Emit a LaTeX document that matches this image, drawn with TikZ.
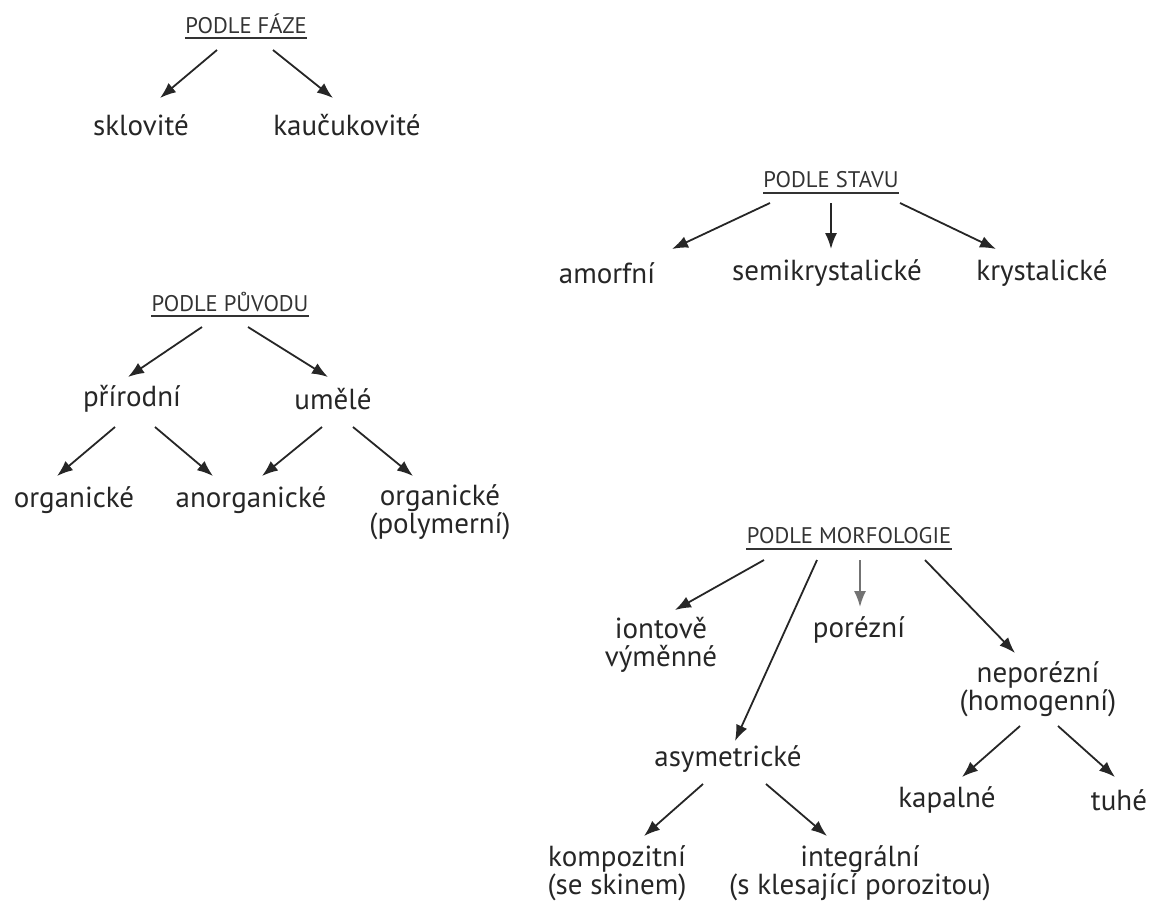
\documentclass[tikz,border=0pt]{standalone}
\usepackage{fontspec}
\setmainfont{PT Sans}
\usetikzlibrary{arrows.meta,calc}

\begin{document}
\begin{tikzpicture}[x=0.5pt,y=-0.5pt]
\tikzstyle{word}=[text=black!85, font=\fontsize{14.5}{14}\selectfont, align=center, inner sep=0pt]
\tikzstyle{head}=[text=black!80, font=\fontsize{11.3}{12}\selectfont, inner xsep=0pt, inner ysep=2pt]
\tikzstyle{uline}=[draw=black!80, line width=1pt]
\tikzstyle{connect}=[-{Latex[length=8pt,width=6pt]}, draw=black!85, line width=0.9pt]

\useasboundingbox (0,0) rectangle (1158,902);

% podle faze
\node[head] (faze)  at (246,24)  {PODLE FÁZE};
\node[word] (sklo)  at (141,125) {sklovité};
\node[word] (kauc)  at (347,125) {kaučukovité};

% podle stavu
\node[head] (stav)  at (831,180) {PODLE STAVU};
\node[word] (amorf) at (607,273) {amorfní};
\node[word] (semi)  at (827,273) {semikrystalické};
\node[word] (kryst) at (1042,273) {krystalické};

% podle puvodu
\node[head] (puvod) at (230,302) {PODLE PŮVODU};
\node[word] (prir)  at (132,399) {přírodní};
\node[word] (umele) at (333,399) {umělé};
\node[word] (orgA)  at (74,500)  {organické};
\node[word] (anorg) at (251,500) {anorganické};
\node[word] (orgB)  at (440,512) {organické\\(polymerní)};

% podle morfologie
\node[head] (morf)  at (849,536) {PODLE MORFOLOGIE};
\node[word] (iont)  at (661,645) {iontově\\výměnné};
\node[word] (poro)  at (859,630) {porézní};
\node[word] (nepor) at (1038,689) {neporézní\\(homogenní)};
\node[word] (asym)  at (728,759) {asymetrické};
\node[word] (kap)   at (947,800) {kapalné};
\node[word] (tuhe)  at (1119,800) {tuhé};
\node[word] (komp)  at (617,873) {kompozitní\\(se skinem)};
\node[word] (integ) at (860,873) {integrální\\(s klesající porozitou)};

% underlines
\foreach \h in {faze,stav,puvod,morf}
  \draw[uline] (\h.south west) -- (\h.south east);

% arrows
\draw[connect] ($(faze)+(-29,26)$) -- ($(sklo)+(19,-27)$);
\draw[connect] ($(faze)+(27,26)$)  -- ($(kauc)+(-14,-27)$);

\draw[connect] ($(stav)+(-61,23)$) -- ($(amorf)+(65,-24)$);
\draw[connect] ($(stav)+(0,23)$)   -- ($(semi)+(4,-24)$);
\draw[connect] ($(stav)+(69,23)$)  -- ($(kryst)+(-46,-24)$);

\draw[connect] ($(puvod)+(-28,25)$) -- ($(prir)+(-4,-22)$);
\draw[connect] ($(puvod)+(18,25)$)  -- ($(umele)+(-5,-22)$);
\draw[connect] ($(prir)+(-17,28)$)  -- ($(orgA)+(-17,-24)$);
\draw[connect] ($(prir)+(23,28)$)   -- ($(anorg)+(-38,-24)$);
\draw[connect] ($(umele)+(-11,28)$) -- ($(anorg)+(11,-24)$);
\draw[connect] ($(umele)+(20,28)$)  -- ($(orgB)+(-27,-36)$);

\draw[connect] ($(morf)+(-85,24)$) -- ($(iont)+(14,-35)$);
\draw[connect] ($(morf)+(-32,24)$) -- ($(asym)+(7,-18)$);
\draw[connect, draw=black!55] ($(morf)+(11,24)$) -- ($(poro)+(1,-23)$);
\draw[connect] ($(morf)+(76,24)$)  -- ($(nepor)+(-23,-36)$);
\draw[connect] ($(nepor)+(-18,37)$) -- ($(kap)+(15,-23)$);
\draw[connect] ($(nepor)+(20,37)$)  -- ($(tuhe)+(-4,-23)$);
\draw[connect] ($(asym)+(-25,25)$)  -- ($(komp)+(27,-37)$);
\draw[connect] ($(asym)+(38,25)$)   -- ($(integ)+(-33,-37)$);

\end{tikzpicture}
\end{document}
